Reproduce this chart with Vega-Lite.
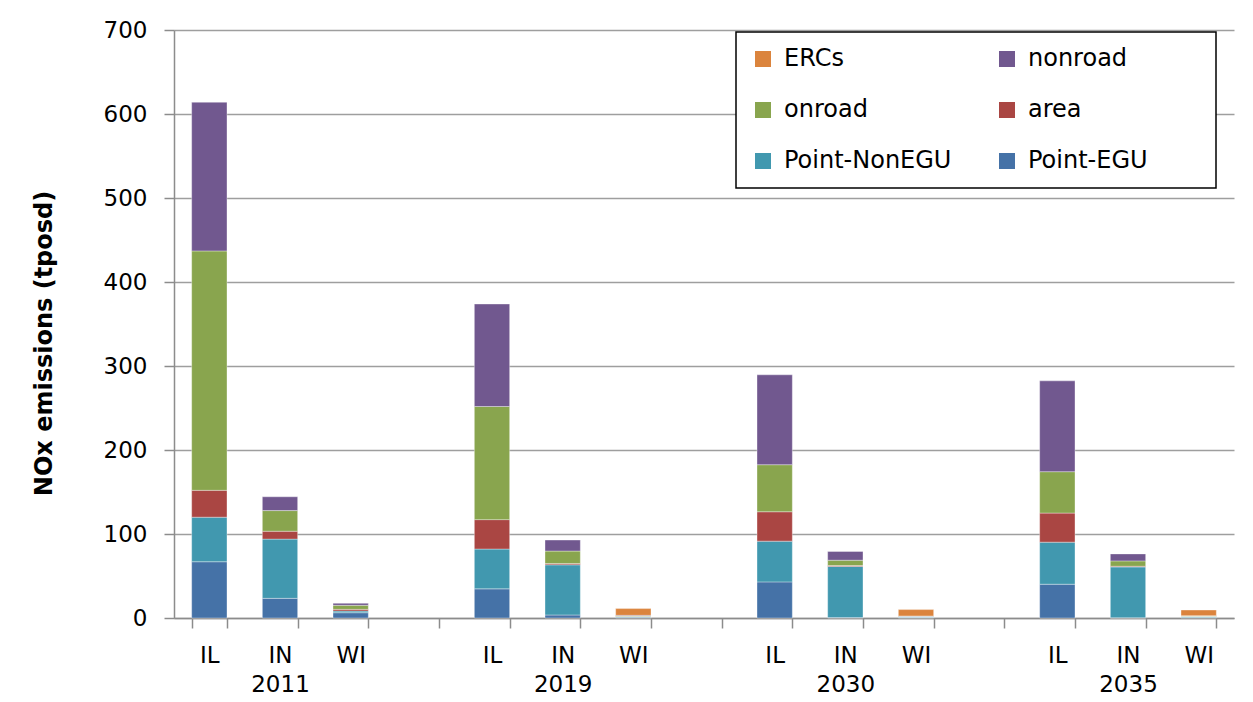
{
  "$schema": "https://vega.github.io/schema/vega-lite/v6.json",
  "width": 1060,
  "height": 588,
  "autosize": {"type": "none"},
  "padding": {"left": 174, "top": 30, "right": 19, "bottom": 84},
  "background": "white",
  "config": {
    "font": "DejaVu Sans",
    "view": {"stroke": null},
    "axis": {"labelFont": "DejaVu Sans", "titleFont": "DejaVu Sans", "labelColor": "black", "titleColor": "black"},
    "legend": {"strokeColor": "black", "strokeWidth": 1.5, "fillColor": "white"}
  },
  "data": {
    "values": [
      {"slot": "2011|IL", "source": "Point-EGU", "value": 67},
      {"slot": "2011|IL", "source": "Point-NonEGU", "value": 53},
      {"slot": "2011|IL", "source": "area", "value": 32},
      {"slot": "2011|IL", "source": "onroad", "value": 285},
      {"slot": "2011|IL", "source": "nonroad", "value": 177},
      {"slot": "2011|IN", "source": "Point-EGU", "value": 23.4},
      {"slot": "2011|IN", "source": "Point-NonEGU", "value": 70.5},
      {"slot": "2011|IN", "source": "area", "value": 9.4},
      {"slot": "2011|IN", "source": "onroad", "value": 24.6},
      {"slot": "2011|IN", "source": "nonroad", "value": 16.4},
      {"slot": "2011|WI", "source": "Point-EGU", "value": 6.3},
      {"slot": "2011|WI", "source": "Point-NonEGU", "value": 2},
      {"slot": "2011|WI", "source": "area", "value": 2},
      {"slot": "2011|WI", "source": "onroad", "value": 4.8},
      {"slot": "2011|WI", "source": "nonroad", "value": 2.4},
      {"slot": "2019|IL", "source": "Point-EGU", "value": 34.7},
      {"slot": "2019|IL", "source": "Point-NonEGU", "value": 47.4},
      {"slot": "2019|IL", "source": "area", "value": 35},
      {"slot": "2019|IL", "source": "onroad", "value": 134.7},
      {"slot": "2019|IL", "source": "nonroad", "value": 122},
      {"slot": "2019|IN", "source": "Point-EGU", "value": 3.6},
      {"slot": "2019|IN", "source": "Point-NonEGU", "value": 59.7},
      {"slot": "2019|IN", "source": "area", "value": 1.6},
      {"slot": "2019|IN", "source": "onroad", "value": 14.8},
      {"slot": "2019|IN", "source": "nonroad", "value": 13.1},
      {"slot": "2019|WI", "source": "Point-EGU", "value": 0.8},
      {"slot": "2019|WI", "source": "Point-NonEGU", "value": 0.8},
      {"slot": "2019|WI", "source": "area", "value": 0.3},
      {"slot": "2019|WI", "source": "onroad", "value": 0.6},
      {"slot": "2019|WI", "source": "nonroad", "value": 0.7},
      {"slot": "2019|WI", "source": "ERCs", "value": 8},
      {"slot": "2030|IL", "source": "Point-EGU", "value": 43},
      {"slot": "2030|IL", "source": "Point-NonEGU", "value": 48.5},
      {"slot": "2030|IL", "source": "area", "value": 35},
      {"slot": "2030|IL", "source": "onroad", "value": 56},
      {"slot": "2030|IL", "source": "nonroad", "value": 107},
      {"slot": "2030|IN", "source": "Point-EGU", "value": 0.5},
      {"slot": "2030|IN", "source": "Point-NonEGU", "value": 60.8},
      {"slot": "2030|IN", "source": "area", "value": 1.2},
      {"slot": "2030|IN", "source": "onroad", "value": 6.3},
      {"slot": "2030|IN", "source": "nonroad", "value": 10.4},
      {"slot": "2030|WI", "source": "Point-EGU", "value": 0.5},
      {"slot": "2030|WI", "source": "Point-NonEGU", "value": 0.8},
      {"slot": "2030|WI", "source": "area", "value": 0.3},
      {"slot": "2030|WI", "source": "onroad", "value": 0.5},
      {"slot": "2030|WI", "source": "nonroad", "value": 0.3},
      {"slot": "2030|WI", "source": "ERCs", "value": 7.6},
      {"slot": "2035|IL", "source": "Point-EGU", "value": 40.2},
      {"slot": "2035|IL", "source": "Point-NonEGU", "value": 50.1},
      {"slot": "2035|IL", "source": "area", "value": 34.6},
      {"slot": "2035|IL", "source": "onroad", "value": 49.3},
      {"slot": "2035|IL", "source": "nonroad", "value": 108.1},
      {"slot": "2035|IN", "source": "Point-EGU", "value": 0.3},
      {"slot": "2035|IN", "source": "Point-NonEGU", "value": 60.5},
      {"slot": "2035|IN", "source": "area", "value": 0.8},
      {"slot": "2035|IN", "source": "onroad", "value": 6.4},
      {"slot": "2035|IN", "source": "nonroad", "value": 8.3},
      {"slot": "2035|WI", "source": "Point-EGU", "value": 0.7},
      {"slot": "2035|WI", "source": "Point-NonEGU", "value": 0.8},
      {"slot": "2035|WI", "source": "area", "value": 0.3},
      {"slot": "2035|WI", "source": "onroad", "value": 0.5},
      {"slot": "2035|WI", "source": "nonroad", "value": 0.5},
      {"slot": "2035|WI", "source": "ERCs", "value": 6.7}
    ]
  },
  "transform": [
    {"calculate": "indexof(['Point-EGU','Point-NonEGU','area','onroad','nonroad','ERCs'], datum.source)", "as": "stackRank"}
  ],
  "mark": {"type": "bar", "stroke": "white", "strokeWidth": 0.6, "strokeOpacity": 0.6},
  "encoding": {
    "x": {
      "field": "slot",
      "type": "nominal",
      "scale": {
        "domain": ["2011|IL", "2011|IN", "2011|WI", "2011|", "2019|IL", "2019|IN", "2019|WI", "2019|", "2030|IL", "2030|IN", "2030|WI", "2030|", "2035|IL", "2035|IN", "2035|WI"],
        "paddingInner": 0.5,
        "paddingOuter": 0.25
      },
      "axis": {
        "title": null,
        "labelAngle": 0,
        "labelFontSize": 23,
        "labelLineHeight": 29,
        "labelBaseline": "top",
        "labelAlign": "center",
        "labelPadding": 16,
        "tickSize": 10,
        "tickBand": "extent",
        "tickColor": "#8c8c8c",
        "tickWidth": 1.5,
        "domainColor": "#8c8c8c",
        "domainWidth": 1.5,
        "labelExpr": "split(datum.value,'|')[1] == 'IN' ? [split(datum.value,'|')[1], split(datum.value,'|')[0]] : split(datum.value,'|')[1]"
      }
    },
    "y": {
      "field": "value",
      "type": "quantitative",
      "stack": "zero",
      "scale": {"domain": [0, 700], "nice": false},
      "axis": {
        "title": "NOx emissions (tposd)",
        "titleFontSize": 24,
        "titleFontWeight": "bold",
        "titleX": -130,
        "titleY": 313,
        "titleAngle": -90,
        "titleAlign": "center",
        "titleBaseline": "middle",
        "values": [0, 100, 200, 300, 400, 500, 600, 700],
        "labelFontSize": 23,
        "labelPadding": 17,
        "tickSize": 10,
        "tickColor": "#8c8c8c",
        "tickWidth": 1.5,
        "domainColor": "#8c8c8c",
        "domainWidth": 1.5,
        "grid": true,
        "gridColor": "#9e9e9e",
        "gridWidth": 1.5
      }
    },
    "color": {
      "field": "source",
      "type": "nominal",
      "scale": {
        "domain": ["ERCs", "onroad", "Point-NonEGU", "nonroad", "area", "Point-EGU"],
        "range": ["#DB843D", "#89A54E", "#4198AF", "#71588F", "#AA4643", "#4572A7"]
      },
      "legend": {
        "title": null,
        "orient": "none",
        "legendX": 562,
        "legendY": 2,
        "columns": 2,
        "gridAlign": "each",
        "columnPadding": 43,
        "rowPadding": 27,
        "padding": 15,
        "fillColor": "white",
        "symbolType": "square",
        "symbolSize": 256,
        "symbolStrokeWidth": 0,
        "labelFontSize": 24,
        "labelOffset": 9,
        "labelColor": "black",
        "labelLimit": 400,
        "labelExpr": "datum.label == 'Point-EGU' ? 'Point-EGU\u00a0\u00a0\u00a0\u00a0\u00a0\u00a0\u00a0\u200b' : datum.label"
      }
    },
    "order": {"field": "stackRank", "type": "quantitative", "sort": "ascending"}
  }
}
